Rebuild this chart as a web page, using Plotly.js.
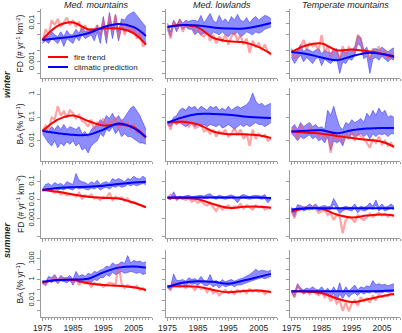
<!DOCTYPE html>
<html lang="en">
<head>
    <meta charset="UTF-8">
    <title>Fire trends vs climatic prediction</title>
    <script src='https://cdn.plot.ly/plotly-3.0.0.min.js'></script>
    <style> body { margin: 0; } </style>
</head>
<body>
<div id="plot" style="width:402px; height:333px;"></div>
<script>
    // years of observation and the points used for the smooth trend curves
    const years = [1975,1976,1977,1978,1979,1980,1981,1982,1983,1984,1985,1986,1987,1988,1989,1990,1991,1992,
                   1993,1994,1995,1996,1997,1998,1999,2000,2001,2002,2003,2004,2005,2006,2007,2008,2009];
    const trendYears = [1975,1980,1985,1990,1995,2000,2005,2009];

    const columns = ['Med. mountains', 'Med. lowlands', 'Temperate mountains'];
    const seasons = ['winter', 'summer'];
    const legendNames = ['fire trend', 'climatic prediction'];

    // ---- winter FD, Med. mountains
    const fireFD_W_MM = [0.0035,0.007,0.005,0.012,0.009,0.013,0.008,0.011,0.014,0.009,0.012,0.008,0.011,0.006,0.009,0.005,0.007,0.006,0.009,0.005,0.012,0.004,0.015,0.006,0.016,0.004,0.011,0.005,0.009,0.006,0.008,0.004,0.006,0.0025,0.003];
    const loFD_W_MM = [0.003,0.0035,0.003,0.004,0.0035,0.003,0.004,0.0025,0.004,0.0035,0.003,0.0045,0.0035,0.005,0.004,0.0045,0.005,0.0035,0.006,0.003,0.009,0.003,0.011,0.004,0.01,0.0035,0.008,0.006,0.007,0.006,0.006,0.005,0.004,0.0035,0.003];
    const hiFD_W_MM = [0.004,0.005,0.0045,0.006,0.005,0.0045,0.006,0.0045,0.0065,0.005,0.005,0.007,0.0055,0.008,0.006,0.0065,0.007,0.0055,0.009,0.005,0.015,0.005,0.019,0.007,0.017,0.006,0.013,0.012,0.016,0.018,0.02,0.016,0.013,0.01,0.008];
    const fireTrFD_W_MM = [0.0037,0.0085,0.0105,0.007,0.0073,0.0073,0.0055,0.0028];
    const climTrFD_W_MM = [0.0037,0.0041,0.0045,0.0055,0.0079,0.0096,0.0079,0.0047];

    // ---- winter FD, Med. lowlands
    const fireFD_W_ML = [0.008,0.004,0.011,0.007,0.012,0.006,0.01,0.008,0.009,0.006,0.007,0.005,0.0045,0.006,0.0035,0.005,0.003,0.0045,0.0035,0.005,0.0028,0.0045,0.006,0.0035,0.005,0.0028,0.004,0.0017,0.0035,0.0025,0.003,0.002,0.0028,0.0018,0.0015];
    const loFD_W_ML = [0.007,0.0045,0.009,0.006,0.009,0.007,0.008,0.007,0.007,0.005,0.006,0.005,0.0055,0.006,0.0045,0.006,0.0055,0.005,0.006,0.005,0.0045,0.0055,0.005,0.006,0.0045,0.005,0.006,0.0055,0.005,0.006,0.0055,0.006,0.007,0.0075,0.008];
    const hiFD_W_ML = [0.01,0.006,0.012,0.009,0.013,0.01,0.012,0.011,0.012,0.012,0.011,0.016,0.01,0.014,0.018,0.012,0.01,0.016,0.011,0.013,0.01,0.015,0.012,0.017,0.012,0.011,0.014,0.01,0.013,0.015,0.012,0.014,0.016,0.015,0.013];
    const fireTrFD_W_ML = [0.008,0.009,0.0078,0.0042,0.0034,0.0032,0.0024,0.0016];
    const climTrFD_W_ML = [0.008,0.009,0.0088,0.0078,0.0073,0.0073,0.0085,0.0102];

    // ---- winter FD, Temperate mountains
    const fireFD_W_TM = [0.002,0.0012,0.0015,0.0025,0.0037,0.0022,0.003,0.0025,0.0028,0.002,0.005,0.0018,0.0025,0.0013,0.0022,0.0017,0.0012,0.0025,0.0015,0.0024,0.002,0.0018,0.005,0.004,0.0015,0.002,0.0012,0.0022,0.0017,0.0025,0.0014,0.002,0.0012,0.0018,0.0012];
    const loFD_W_TM = [0.0013,0.0009,0.0012,0.0015,0.001,0.0013,0.0011,0.0009,0.0012,0.0013,0.0008,0.0012,0.001,0.0009,0.0011,0.0012,0.0005,0.001,0.0009,0.0012,0.0011,0.0015,0.003,0.0025,0.0012,0.0014,0.0005,0.0012,0.0013,0.0011,0.0014,0.0012,0.001,0.0012,0.0011];
    const hiFD_W_TM = [0.0022,0.0016,0.002,0.0028,0.0018,0.0022,0.002,0.0018,0.002,0.0022,0.0016,0.002,0.0018,0.0017,0.002,0.0022,0.0012,0.0019,0.0017,0.002,0.002,0.0025,0.0048,0.0042,0.002,0.0024,0.0011,0.0021,0.0022,0.002,0.0024,0.0021,0.0018,0.0021,0.0023];
    const fireTrFD_W_TM = [0.0018,0.0027,0.003,0.002,0.0021,0.0019,0.0016,0.0013];
    const climTrFD_W_TM = [0.0018,0.0016,0.0013,0.0011,0.0014,0.0017,0.0016,0.0014];

    // ---- winter BA, Med. mountains
    const fireBA_W_MM = [0.025,0.045,0.03,0.1,0.08,0.3,0.12,0.18,0.1,0.2,0.15,0.09,0.13,0.07,0.06,0.04,0.08,0.03,0.06,0.05,0.09,0.04,0.07,0.06,0.1,0.03,0.08,0.05,0.06,0.03,0.05,0.02,0.03,0.015,0.012];
    const loBA_W_MM = [0.02,0.012,0.008,0.006,0.01,0.005,0.008,0.006,0.009,0.007,0.01,0.006,0.008,0.004,0.005,0.003,0.006,0.008,0.01,0.02,0.015,0.03,0.025,0.04,0.02,0.03,0.015,0.02,0.015,0.015,0.012,0.01,0.008,0.008,0.007];
    const hiBA_W_MM = [0.03,0.035,0.025,0.04,0.03,0.045,0.03,0.05,0.03,0.04,0.035,0.03,0.04,0.02,0.025,0.015,0.03,0.04,0.05,0.08,0.06,0.12,0.09,0.15,0.08,0.12,0.07,0.1,0.15,0.25,0.3,0.2,0.12,0.06,0.03];
    const fireTrBA_W_MM = [0.026,0.08,0.12,0.07,0.045,0.05,0.038,0.014];
    const climTrBA_W_MM = [0.026,0.021,0.018,0.018,0.03,0.055,0.035,0.014];

    // ---- winter BA, Med. lowlands
    const fireBA_W_ML = [0.06,0.03,0.08,0.05,0.1,0.06,0.07,0.04,0.06,0.035,0.04,0.05,0.025,0.03,0.02,0.03,0.015,0.025,0.02,0.03,0.015,0.02,0.035,0.018,0.03,0.012,0.02,0.006,0.03,0.012,0.02,0.015,0.018,0.01,0.012];
    const loBA_W_ML = [0.05,0.04,0.06,0.05,0.06,0.05,0.04,0.05,0.06,0.04,0.05,0.04,0.05,0.04,0.05,0.045,0.04,0.05,0.035,0.04,0.05,0.04,0.03,0.04,0.05,0.04,0.05,0.04,0.05,0.06,0.05,0.05,0.04,0.05,0.06];
    const hiBA_W_ML = [0.07,0.06,0.1,0.12,0.2,0.25,0.2,0.3,0.25,0.3,0.2,0.3,0.25,0.2,0.3,0.25,0.3,0.2,0.25,0.2,0.3,0.2,0.25,0.3,0.25,0.3,0.35,0.5,1.1,0.5,0.35,0.4,0.3,0.35,0.4];
    const fireTrBA_W_ML = [0.06,0.065,0.05,0.025,0.019,0.019,0.017,0.013];
    const climTrBA_W_ML = [0.06,0.1,0.14,0.14,0.13,0.11,0.1,0.095];

    // ---- winter BA, Temperate mountains
    const fireBA_W_TM = [0.025,0.04,0.012,0.05,0.03,0.02,0.04,0.025,0.03,0.015,0.02,0.012,0.025,0.003,0.02,0.01,0.015,0.008,0.02,0.012,0.03,0.01,0.02,0.015,0.012,0.008,0.005,0.012,0.008,0.015,0.007,0.01,0.006,0.008,0.005];
    const loBA_W_TM = [0.02,0.015,0.01,0.015,0.012,0.015,0.018,0.012,0.015,0.01,0.012,0.008,0.015,0.004,0.01,0.008,0.01,0.006,0.015,0.012,0.02,0.015,0.018,0.02,0.015,0.02,0.012,0.02,0.015,0.02,0.018,0.02,0.015,0.02,0.02];
    const hiBA_W_TM = [0.035,0.05,0.03,0.06,0.04,0.05,0.06,0.04,0.05,0.035,0.04,0.03,0.2,0.12,0.3,0.1,0.04,0.03,0.06,0.05,0.08,0.06,0.07,0.09,0.06,0.15,0.1,0.2,0.12,0.25,0.15,0.2,0.1,0.12,0.1];
    const fireTrBA_W_TM = [0.025,0.022,0.02,0.016,0.013,0.011,0.009,0.0055];
    const climTrBA_W_TM = [0.025,0.027,0.028,0.021,0.028,0.033,0.035,0.035];

    // ---- summer FD, Med. mountains
    const fireFD_S_MM = [0.03,0.045,0.035,0.03,0.025,0.03,0.02,0.025,0.018,0.022,0.02,0.015,0.025,0.012,0.018,0.015,0.02,0.012,0.014,0.01,0.015,0.013,0.025,0.01,0.015,0.012,0.014,0.009,0.012,0.007,0.008,0.006,0.005,0.0045,0.004];
    const loFD_S_MM = [0.03,0.04,0.04,0.035,0.04,0.035,0.04,0.035,0.045,0.04,0.035,0.05,0.04,0.045,0.04,0.035,0.045,0.04,0.05,0.035,0.045,0.05,0.04,0.055,0.05,0.06,0.05,0.055,0.07,0.06,0.07,0.06,0.07,0.08,0.07];
    const hiFD_S_MM = [0.04,0.07,0.08,0.06,0.09,0.07,0.08,0.06,0.1,0.08,0.07,0.28,0.12,0.1,0.09,0.07,0.1,0.08,0.12,0.07,0.09,0.1,0.08,0.15,0.12,0.15,0.12,0.1,0.15,0.13,0.2,0.15,0.14,0.2,0.15];
    const fireTrFD_S_MM = [0.035,0.028,0.02,0.015,0.013,0.012,0.007,0.004];
    const climTrFD_S_MM = [0.035,0.045,0.05,0.053,0.06,0.075,0.09,0.1];

    // ---- summer FD, Med. lowlands
    const fireFD_S_ML = [0.013,0.02,0.015,0.01,0.014,0.012,0.01,0.013,0.008,0.01,0.007,0.009,0.006,0.005,0.007,0.004,0.0025,0.005,0.003,0.004,0.005,0.0035,0.0045,0.004,0.006,0.0035,0.005,0.004,0.003,0.005,0.004,0.0045,0.003,0.004,0.0035];
    const loFD_S_ML = [0.012,0.01,0.018,0.01,0.012,0.011,0.012,0.013,0.011,0.012,0.012,0.013,0.012,0.012,0.014,0.012,0.011,0.013,0.012,0.011,0.012,0.013,0.011,0.007,0.012,0.013,0.012,0.011,0.012,0.013,0.012,0.011,0.012,0.007,0.011];
    const hiFD_S_ML = [0.015,0.013,0.028,0.014,0.016,0.015,0.017,0.018,0.015,0.016,0.017,0.018,0.016,0.02,0.022,0.016,0.015,0.018,0.016,0.015,0.017,0.019,0.016,0.011,0.017,0.02,0.017,0.015,0.017,0.018,0.017,0.016,0.02,0.01,0.015];
    const fireTrFD_S_ML = [0.013,0.013,0.011,0.006,0.0037,0.0042,0.0043,0.0038];
    const climTrFD_S_ML = [0.0135,0.0135,0.0135,0.0135,0.0135,0.0135,0.0135,0.013];

    // ---- summer FD, Temperate mountains
    const fireFD_S_TM = [0.0025,0.001,0.004,0.003,0.004,0.0035,0.003,0.004,0.0035,0.002,0.0025,0.003,0.0015,0.002,0.0008,0.0015,0.0012,0.00015,0.0008,0.0012,0.001,0.0006,0.0015,0.001,0.0008,0.0012,0.0018,0.0012,0.0015,0.002,0.0014,0.0018,0.0012,0.0016,0.0012];
    const loFD_S_TM = [0.0025,0.0012,0.004,0.0035,0.0025,0.003,0.0035,0.003,0.004,0.0025,0.003,0.0035,0.0028,0.003,0.006,0.003,0.0018,0.0025,0.003,0.0028,0.0025,0.0035,0.002,0.003,0.0025,0.0028,0.004,0.003,0.0055,0.0025,0.0035,0.0025,0.003,0.0035,0.003];
    const hiFD_S_TM = [0.004,0.002,0.0055,0.005,0.004,0.0045,0.006,0.0045,0.006,0.004,0.0045,0.005,0.0042,0.0045,0.012,0.006,0.003,0.004,0.0045,0.004,0.004,0.006,0.0035,0.0045,0.004,0.0045,0.007,0.0045,0.01,0.004,0.006,0.004,0.0045,0.006,0.0045];
    const fireTrFD_S_TM = [0.0023,0.0035,0.0033,0.0016,0.0011,0.0014,0.0016,0.0014];
    const climTrFD_S_TM = [0.003,0.0035,0.0035,0.0035,0.0035,0.0035,0.0035,0.0035];

    // ---- summer BA, Med. mountains
    const fireBA_S_MM = [0.5,0.3,1,0.8,2,0.5,1.5,1,0.7,1.2,0.5,1.5,0.3,0.8,0.4,0.6,0.2,0.5,0.3,0.4,0.2,0.3,0.5,0.4,0.3,30,0.4,0.15,0.3,0.2,0.15,0.25,0.1,0.15,0.08];
    const loBA_S_MM = [0.4,0.3,0.8,0.5,1,0.4,0.8,0.6,0.5,0.8,0.3,1,0.5,0.6,0.5,0.7,0.5,1,0.8,1.5,1.5,3,2,5,3,4,6,4,5,6,5,4,5,3,4];
    const hiBA_S_MM = [0.8,0.6,2,1.5,3,1,2.5,1.5,1.5,2.5,1,6,2,3,2,4,3,6,5,8,10,20,15,40,25,30,50,35,200,40,70,50,60,40,50];
    const fireTrBA_S_MM = [0.55,0.9,0.9,0.45,0.3,0.25,0.18,0.1];
    const climTrBA_S_MM = [0.6,0.9,1,1.2,4.9,14,18,14];

    // ---- summer BA, Med. lowlands
    const fireBA_S_ML = [0.22,0.1,0.5,0.3,0.2,0.25,0.15,0.3,0.2,0.1,0.25,0.12,0.2,0.06,0.15,0.05,0.08,0.03,0.06,0.1,0.05,0.08,0.04,0.1,0.06,0.09,0.05,0.12,0.07,0.1,0.06,0.09,0.04,0.08,0.06];
    const loBA_S_ML = [0.15,0.1,0.5,0.3,0.3,0.4,0.25,0.5,0.35,0.4,0.3,0.5,0.3,0.25,0.4,0.2,0.3,0.15,0.3,0.2,0.25,0.3,0.2,0.3,0.3,0.4,0.5,0.6,0.8,1,1.2,1.5,1.2,1.5,2];
    const hiBA_S_ML = [0.3,0.2,3.4,0.8,0.8,1,0.7,1.5,1,1.2,0.8,2,0.8,0.7,3,0.6,0.8,0.5,1,0.6,0.8,1,0.7,1,1.2,1.5,2,3,5,10,6,8,7,6,8];
    const fireTrBA_S_ML = [0.22,0.23,0.2,0.1,0.06,0.08,0.09,0.065];
    const climTrBA_S_ML = [0.2,0.5,0.7,0.6,0.4,0.8,1.8,3.5];

    // ---- summer BA, Temperate mountains
    const fireBA_S_TM = [0.08,0.02,0.3,0.1,0.05,0.08,0.04,0.1,0.05,0.03,0.06,0.02,0.04,0.008,0.03,0.005,0.01,0.001,0.006,0.0009,0.005,0.01,0.003,0.02,0.008,0.015,0.006,0.03,0.01,0.04,0.02,0.03,0.025,0.06,0.03];
    const loBA_S_TM = [0.06,0.02,0.2,0.08,0.04,0.06,0.05,0.07,0.05,0.04,0.06,0.03,0.05,0.02,0.05,0.01,0.04,0.015,0.05,0.02,0.04,0.05,0.03,0.06,0.04,0.06,0.05,0.08,0.05,0.06,0.05,0.07,0.06,0.07,0.08];
    const hiBA_S_TM = [0.1,0.05,0.4,0.15,0.1,0.15,0.12,0.2,0.12,0.1,0.2,0.08,0.15,0.06,0.2,0.06,0.5,0.05,0.2,0.08,0.15,0.3,0.1,0.2,0.15,0.25,0.2,0.8,0.3,0.4,0.3,0.35,0.25,0.3,0.4];
    const fireTrBA_S_TM = [0.075,0.07,0.05,0.015,0.007,0.012,0.025,0.04];
    const climTrBA_S_TM = [0.075,0.075,0.075,0.075,0.075,0.075,0.08,0.09];

    // panel order: row by row, left to right
    const panels = [
        [fireFD_W_MM, loFD_W_MM, hiFD_W_MM, fireTrFD_W_MM, climTrFD_W_MM],
        [fireFD_W_ML, loFD_W_ML, hiFD_W_ML, fireTrFD_W_ML, climTrFD_W_ML],
        [fireFD_W_TM, loFD_W_TM, hiFD_W_TM, fireTrFD_W_TM, climTrFD_W_TM],
        [fireBA_W_MM, loBA_W_MM, hiBA_W_MM, fireTrBA_W_MM, climTrBA_W_MM],
        [fireBA_W_ML, loBA_W_ML, hiBA_W_ML, fireTrBA_W_ML, climTrBA_W_ML],
        [fireBA_W_TM, loBA_W_TM, hiBA_W_TM, fireTrBA_W_TM, climTrBA_W_TM],
        [fireFD_S_MM, loFD_S_MM, hiFD_S_MM, fireTrFD_S_MM, climTrFD_S_MM],
        [fireFD_S_ML, loFD_S_ML, hiFD_S_ML, fireTrFD_S_ML, climTrFD_S_ML],
        [fireFD_S_TM, loFD_S_TM, hiFD_S_TM, fireTrFD_S_TM, climTrFD_S_TM],
        [fireBA_S_MM, loBA_S_MM, hiBA_S_MM, fireTrBA_S_MM, climTrBA_S_MM],
        [fireBA_S_ML, loBA_S_ML, hiBA_S_ML, fireTrBA_S_ML, climTrBA_S_ML],
        [fireBA_S_TM, loBA_S_TM, hiBA_S_TM, fireTrBA_S_TM, climTrBA_S_TM]
    ];

    const FD_TITLE = 'FD (# yr<sup>-1</sup> km<sup>-2</sup>)';
    const BA_TITLE = 'BA (% yr<sup>-1</sup>)';
    const rowTitles = [FD_TITLE, BA_TITLE, FD_TITLE, BA_TITLE];
    const rowRange = [[-3.42, -1.63], [-2.87, 0.26], [-4.08, -0.36], [-3.6, 2.84]];
    // labelled ticks, then the unlabelled ones in between
    const rowTicks = [[0.001,0.01], [0.01,0.1,1], [0.001,0.01,0.1], [0.01,1,100]];
    const rowText  = [['0.001','0.01'], ['0.01','0.1','1'], ['0.001','0.01','0.1'], ['0.01','1','100']];
    const rowMinor = [[0.0005,0.002,0.005,0.02], [0.001], [0.0001], [0.001,0.1,10]];

    const W = 402, H = 333;
    const colPx = [[41,152],[166,277],[290,400]];
    const rowPx = [[9,78],[88,161],[170,238],[250,317]];

    const GREY = '#9a9a9a';
    const RED = '#ff0000', BLUE = '#0000ff';
    const FONT = 'Liberation Sans, Arial, sans-serif';

    let traces = [];
    let layout = {
        width: W, height: H,
        margin: {l:0, r:0, t:0, b:0},
        paper_bgcolor: 'white', plot_bgcolor: 'white',
        font: {family: FONT, size: 8, color: '#222'},
        showlegend: false,
        annotations: [], shapes: []
    };

    panels.forEach(function (p, i) {
        const row = Math.floor(i / 3), col = i % 3;
        const n = i === 0 ? '' : String(i + 1);
        const xa = 'x' + n, ya = 'y' + n;
        const [fire, lo, hi, fireTr, climTr] = p;

        // climatic prediction band
        traces.push({x: years, y: lo, xaxis: xa, yaxis: ya, type: 'scatter', mode: 'lines',
            line: {color: 'rgba(60,60,255,0.75)', width: 0.8}, hoverinfo: 'skip'});
        traces.push({x: years, y: hi, xaxis: xa, yaxis: ya, type: 'scatter', mode: 'lines',
            fill: 'tonexty', fillcolor: 'rgba(80,80,255,0.65)',
            line: {color: 'rgba(60,60,255,0.75)', width: 0.8}, hoverinfo: 'skip'});
        // observed fire values
        traces.push({x: years, y: fire, xaxis: xa, yaxis: ya, type: 'scatter', mode: 'lines',
            line: {color: 'rgba(255,90,90,0.55)', width: 2.2}});
        // smooth trends
        traces.push({x: trendYears, y: fireTr, xaxis: xa, yaxis: ya, type: 'scatter', mode: 'lines',
            line: {color: RED, width: 2, shape: 'spline', smoothing: 1}, name: legendNames[0]});
        traces.push({x: trendYears, y: climTr, xaxis: xa, yaxis: ya, type: 'scatter', mode: 'lines',
            line: {color: BLUE, width: 2, shape: 'spline', smoothing: 1}, name: legendNames[1]});

        layout['xaxis' + n] = {
            domain: [colPx[col][0] / W, colPx[col][1] / W], anchor: ya,
            range: [1974.5, 2011], showgrid: false, zeroline: false,
            showline: true, linecolor: GREY, linewidth: 1.2,
            ticks: 'outside', ticklen: 3, tickcolor: GREY, tick0: 1975, dtick: 10,
            minor: {dtick: 1, ticks: 'outside', ticklen: 2, tickcolor: GREY},
            showticklabels: row === 3, tickfont: {size: 8.5}
        };
        layout['yaxis' + n] = {
            domain: [1 - rowPx[row][1] / H, 1 - rowPx[row][0] / H], anchor: xa,
            type: 'log', range: rowRange[row], showgrid: false, zeroline: false,
            showline: true, linecolor: GREY, linewidth: 1.2,
            ticks: 'outside', ticklen: 3, tickcolor: GREY,
            tickmode: 'array', tickvals: rowTicks[row], ticktext: rowText[row], tickangle: -90,
            minor: {tickmode: 'array', tickvals: rowMinor[row], ticks: 'outside', ticklen: 3, tickcolor: GREY},
            showticklabels: col === 0, tickfont: {size: 7.5}
        };
    });

    // legend drawn inside the first panel
    [RED, BLUE].forEach(function (c, k) {
        const yy = 1 - (57 + k * 10) / H;
        layout.shapes.push({type: 'line', xref: 'paper', yref: 'paper',
            x0: 48 / W, x1: 68 / W, y0: yy, y1: yy, line: {color: c, width: 2}});
        layout.annotations.push({text: legendNames[k], xref: 'paper', yref: 'paper',
            x: 72 / W, y: yy, xanchor: 'left', yanchor: 'middle', showarrow: false, font: {size: 8}});
    });

    // y titles of the first column
    rowTitles.forEach(function (t, r) {
        layout.annotations.push({text: t, xref: 'paper', yref: 'paper',
            x: 20 / W, y: 1 - (rowPx[r][0] + rowPx[r][1]) / 2 / H, xanchor: 'center', yanchor: 'middle',
            textangle: -90, showarrow: false, font: {size: 8.5}});
    });
    columns.forEach(function (c, j) {
        layout.annotations.push({text: '<i>' + c + '</i>', xref: 'paper', yref: 'paper',
            x: (colPx[j][0] + colPx[j][1]) / 2 / W, y: 1 - 5 / H, xanchor: 'center', yanchor: 'middle',
            showarrow: false, font: {size: 9}});
    });
    const seasonY = [85, 240];
    seasons.forEach(function (s, j) {
        layout.annotations.push({text: '<b><i>' + s + '</i></b>', xref: 'paper', yref: 'paper',
            x: 7 / W, y: 1 - seasonY[j] / H, xanchor: 'center', yanchor: 'middle',
            textangle: -90, showarrow: false, font: {size: 9}});
    });

    Plotly.newPlot('plot', traces, layout, {staticPlot: true});
</script>
</body>
</html>
